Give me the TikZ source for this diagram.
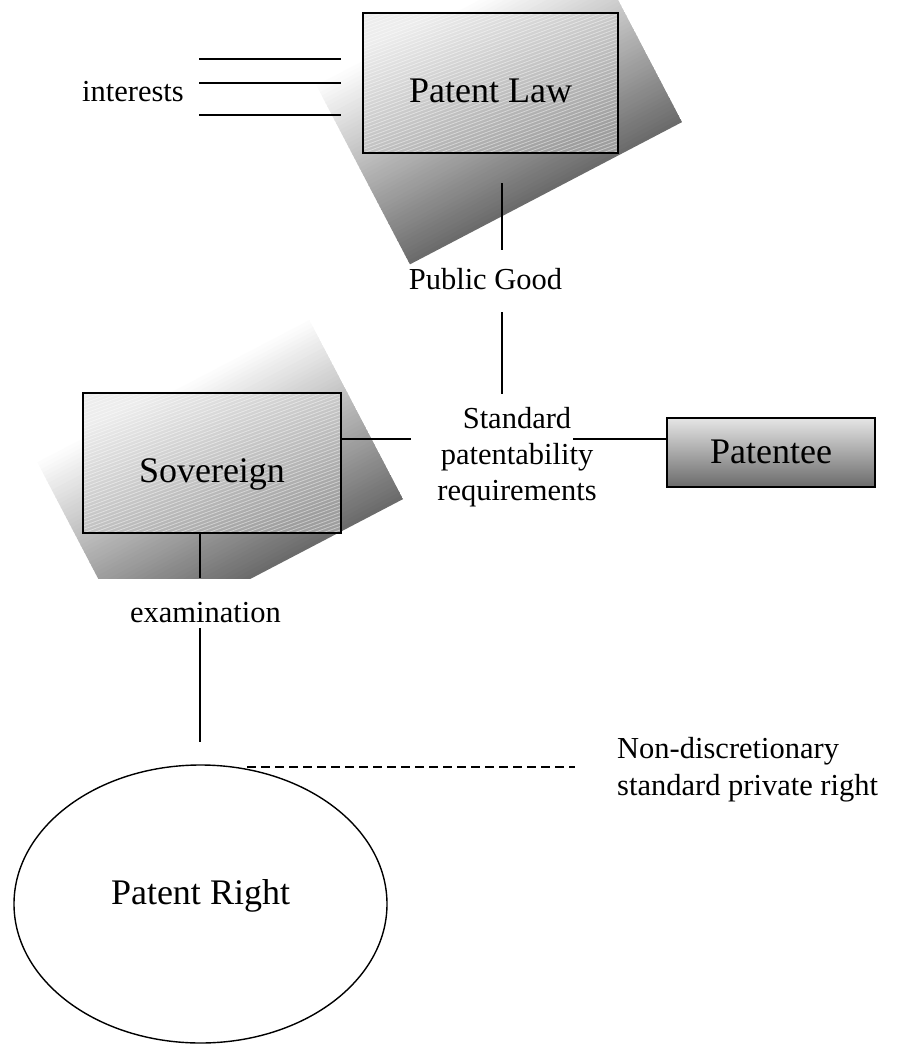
\documentclass[tikz,border=0pt]{standalone}
\usepackage{fontspec}
\setmainfont{Liberation Serif}
\usetikzlibrary{calc,shapes.geometric}

\definecolor{shadowdark}{gray}{0.42}
\definecolor{boxlight}{gray}{0.93}
\definecolor{boxdark}{gray}{0.62}
\definecolor{barlight}{gray}{0.90}
\definecolor{bardark}{gray}{0.42}

\tikzset{
  lbl/.style={inner sep=0pt, anchor=base, font=\fontsize{30.5}{36}\selectfont},
  boxtext/.style={font=\fontsize{36}{43}\selectfont},
  link/.style={line width=1.5pt, line cap=butt},
  dashlink/.style={line width=1.3pt, dash pattern=on 9pt off 5pt},
  hatchline/.style={draw=white, line width=0.8pt, opacity=0.45},
  hatchbox/.style={draw=black, line width=1.6pt, inner sep=0pt,
    minimum height=140pt, text height=38pt, text depth=0pt, boxtext,
    top color=boxlight, bottom color=boxdark, shading angle=25,
    path picture={
      \foreach \k in {0,3.5,...,245}
        \path[hatchline] ($(path picture bounding box.north west)+(0,\k)$) -- ++(290,-106);
    }},
  barbox/.style={draw=black, line width=1.6pt, inner sep=0pt,
    minimum width=208pt, minimum height=69pt, text height=21pt, text depth=0pt,
    boxtext, top color=barlight, bottom color=bardark},
  oval/.style={ellipse, draw=black, line width=1.4pt, inner sep=0pt,
    minimum width=373pt, minimum height=278pt, text height=0pt, text depth=0pt,
    boxtext},
}

% tilted drop shadow: a 307 x 233 rectangle, turned by 27.6 degrees,
% white along its upper edge and fading to grey towards its lower edge
\newcommand\tiltshadow[1]{%
  \begin{scope}[shift={#1}, rotate=27.6]
    \clip (-153.5,-116.5) rectangle (153.5,116.5);
    \foreach \i in {0,...,59}{
      \pgfmathsetmacro\p{max(0,(\i/59-0.12)/0.88)*100}
      \fill[shadowdark!\p!white]
        (-154,{-116.5+\i*233/60}) rectangle (154,{-116.5+(\i+1)*233/60+0.8});
    }
  \end{scope}}

\begin{document}
\begin{tikzpicture}[x=1pt, y=-1pt]
\useasboundingbox (0,0) rectangle (900,1044);

% soft drop shadows behind the two hatched boxes
\begin{scope}
  \clip (0,0) rectangle (900,1044);
  \tiltshadow{(492,90)}
\end{scope}
\begin{scope}
  \clip (0,0) rectangle (900,578);
  \tiltshadow{(213,467)}
\end{scope}

% main boxes
\node[hatchbox, minimum width=255pt] (pl) at (490.5,83) {Patent Law};
\node[hatchbox, minimum width=258pt] (sov) at (212,463) {Sovereign};
\node[barbox] (pt) at (771,452.5) {Patentee};
\node[oval] (pr) at (200.5,904) {Patent Right};

% labels (multi-line labels are anchored on their last line)
\node[lbl] (int) at (133,101.7) {interests};
\node[lbl] (pg) at (485.5,289) {Public Good};
\node[lbl, align=center] (spr) at (517,500.5) {Standard\\patentability\\requirements};
\node[lbl] (exm) at (205.5,622.7) {examination};
\node[lbl, anchor=base west, align=left, font=\fontsize{30.5}{37}\selectfont] (nd) at (617,795)
  {Non-discretionary\\standard private right};

% line ends
\coordinate (ia1) at (199,59);   \coordinate (ib1) at (341,59);
\coordinate (ia2) at (199,83);   \coordinate (ib2) at (341,83);
\coordinate (ia3) at (199,115);  \coordinate (ib3) at (341,115);
\coordinate (plq) at (502,183);  \coordinate (pgt) at (502,250);
\coordinate (pgb) at (502,312);  \coordinate (sprt) at (502,394);
\coordinate (sprl) at (411,439); \coordinate (sprr) at (573,439);
\coordinate (exa) at (200,578);
\coordinate (exb) at (200,628);  \coordinate (prt) at (200,742);
\coordinate (dsa) at (247,767);  \coordinate (dsb) at (575,767);

% connectors
\draw[link] (ia1) -- (ib1);
\draw[link] (ia2) -- (ib2);
\draw[link] (ia3) -- (ib3);
\draw[link] (plq) -- (pgt);
\draw[link] (pgb) -- (sprt);
\draw[link] (sov.east |- sprl) -- (sprl);
\draw[link] (sprr) -- (sprr -| pt.west);
\draw[link] (sov.south -| exa) -- (exa);
\draw[link] (exb) -- (prt);
\draw[dashlink] (dsa) -- (dsb);
\end{tikzpicture}
\end{document}
